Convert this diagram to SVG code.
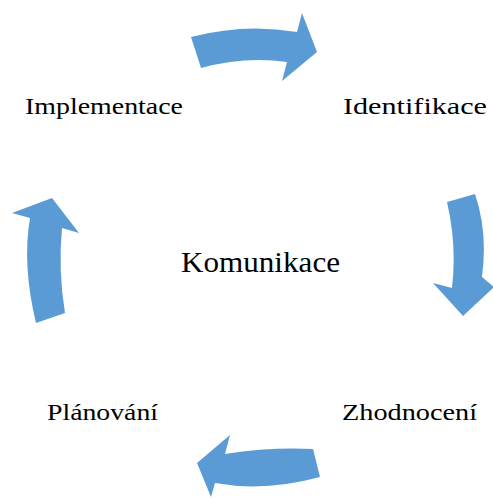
<svg xmlns="http://www.w3.org/2000/svg" width="493" height="498" viewBox="0 0 493 498">
<style>
.arr{fill:#5B9BD5;}
.lbl{font-family:"Liberation Serif","Times New Roman",serif;font-size:23px;fill:#000;}
.ctr{font-family:"Liberation Serif","Times New Roman",serif;font-size:29px;fill:#000;}
</style>
<rect width="493" height="498" fill="#fff"/>
<g id="connectors">
<path class="arr" d="M191,37 Q245,23 297,32 L302,13 L317,52 L282,81 L287,62 Q245,56 201,68 Z"/>
<path class="arr" d="M447,202 L475,194 Q488,232 482,277 L494,287 L463,316 L433,283 L452,288 Q457,245 447,202 Z"/>
<path class="arr" d="M313,449 Q270,447 225,454 L230,435 L197,463 L211,497 L215,483 Q265,492 320,477 Z"/>
<path class="arr" d="M36,323 L65,313 Q58,270 62,228 L79,233 L52,198 L12,213 L30,218 Q22,265 36,323 Z"/>
</g>
<g id="komunikace"><text class="ctr" x="181" y="272" textLength="159" lengthAdjust="spacingAndGlyphs">Komunikace</text></g>
<g id="identifikace"><text class="lbl" x="343" y="114" textLength="144" lengthAdjust="spacingAndGlyphs">Identifikace</text></g>
<g id="implementace"><text class="lbl" x="25" y="114" textLength="158" lengthAdjust="spacingAndGlyphs">Implementace</text></g>
<g id="planovani"><text class="lbl" x="47" y="420" textLength="111" lengthAdjust="spacingAndGlyphs">Plánování</text></g>
<g id="zhodnoceni"><text class="lbl" x="342" y="420" textLength="135" lengthAdjust="spacingAndGlyphs">Zhodnocení</text></g>
</svg>
